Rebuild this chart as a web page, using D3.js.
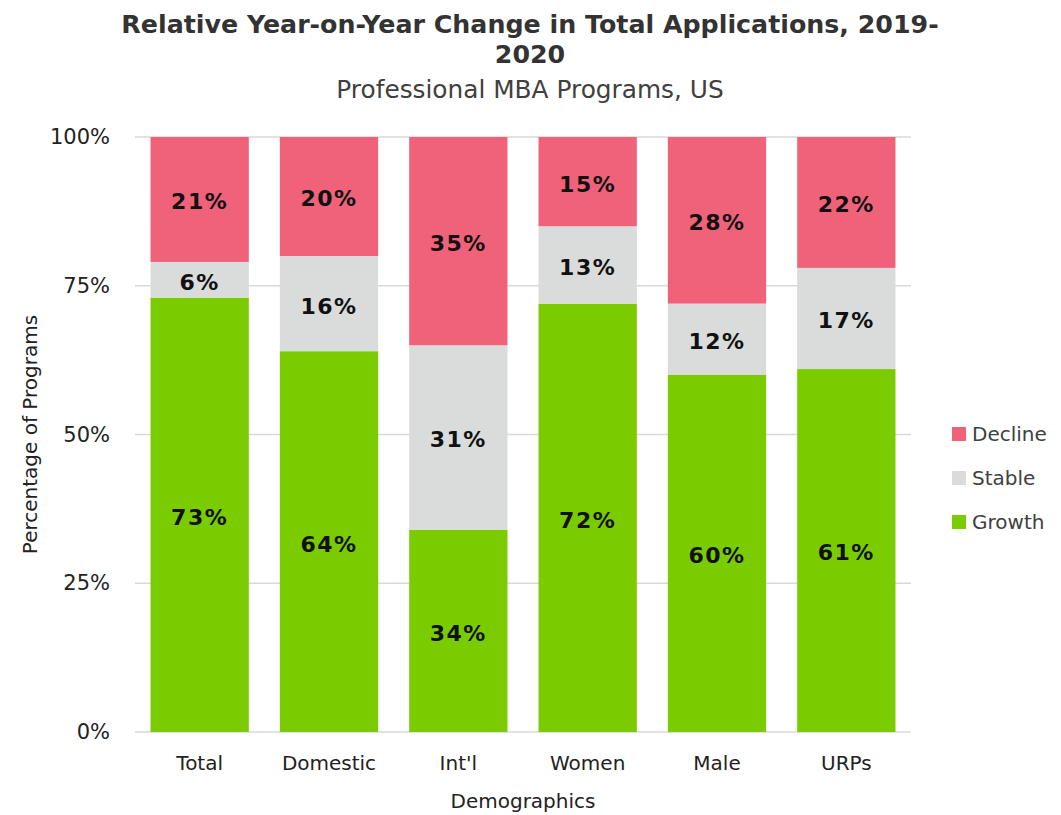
<!DOCTYPE html>
<html>
<head>
<meta charset="utf-8">
<script src="https://cdn.jsdelivr.net/npm/d3@7"></script>
<style>
  html, body { margin: 0; padding: 0; background: #fff; }
  svg { display: block; }
</style>
</head>
<body>
<svg id="chart" width="1061" height="815"></svg>
<script>
// Categories and stacked shares (percent of programs)
const categories = ["Total", "Domestic", "Int'l", "Women", "Male", "URPs"];
const growth  = [73, 64, 34, 72, 60, 61];
const stable  = [6, 16, 31, 13, 12, 17];
const decline = [21, 20, 35, 15, 28, 22];
const seriesNames = ["Growth", "Stable", "Decline"];
const yTicks = [0, 25, 50, 75, 100];

const colors = { Growth: "#7ACC00", Stable: "#D9DCDB", Decline: "#EF6279" };
const FONT = "'DejaVu Sans', sans-serif";

const svg = d3.select("#chart");
const margin = { left: 135, right: 150, top: 137, bottom: 83 };
const W = 1061, H = 815;

const x = d3.scaleBand().domain(categories)
  .range([margin.left, W - margin.right]).paddingInner(0.24).paddingOuter(0.12);
const y = d3.scaleLinear().domain([0, 100]).range([H - margin.bottom, margin.top]);

const rows = categories.map((c, i) => ({ category: c, Growth: growth[i], Stable: stable[i], Decline: decline[i] }));
const stacked = d3.stack().keys(seriesNames)(rows);

// Gridlines
svg.append("g").selectAll("line").data(yTicks).join("line")
  .attr("x1", margin.left).attr("x2", W - margin.right)
  .attr("y1", d => y(d)).attr("y2", d => y(d))
  .attr("stroke", "#D9D9D9").attr("stroke-width", 1.5);

// Y axis labels
const yAxis = d3.axisLeft(y).tickValues(yTicks).tickFormat(d => d + "%").tickSize(0).tickPadding(25);
const gy = svg.append("g").attr("transform", `translate(${margin.left},0)`).call(yAxis);
gy.select(".domain").remove();
gy.selectAll("text").attr("font-family", FONT).attr("font-size", 21).attr("fill", "#222");

// Bars
const layer = svg.append("g").selectAll("g").data(stacked).join("g")
  .attr("fill", d => colors[d.key]);
layer.selectAll("rect").data(d => d).join("rect")
  .attr("x", d => x(d.data.category))
  .attr("width", x.bandwidth())
  .attr("y", d => y(d[1]))
  .attr("height", d => y(d[0]) - y(d[1]));

// Value labels
const labels = svg.append("g");
stacked.forEach(s => {
  labels.selectAll(null).data(s).join("text")
    .attr("x", d => x(d.data.category) + x.bandwidth() / 2)
    .attr("y", d => (y(d[0]) + y(d[1])) / 2)
    .attr("dy", "0.45em")
    .attr("text-anchor", "middle")
    .attr("font-family", FONT)
    .attr("font-weight", "bold")
    .attr("font-size", 22)
    .attr("letter-spacing", 1.5)
    .attr("fill", "#111")
    .text(d => (d[1] - d[0]) + "%");
});

// X axis labels
const xAxis = d3.axisBottom(x).tickSize(0).tickPadding(24);
const gx = svg.append("g").attr("transform", `translate(0,${y(0)})`).call(xAxis);
gx.select(".domain").remove();
gx.selectAll("text").attr("font-family", FONT).attr("font-size", 20).attr("fill", "#222");

// Axis titles
svg.append("text")
  .attr("x", (margin.left + W - margin.right) / 2).attr("y", 808)
  .attr("text-anchor", "middle")
  .attr("font-family", FONT).attr("font-size", 20).attr("fill", "#222")
  .text("Demographics");
svg.append("text")
  .attr("transform", `translate(37,${(y(0) + y(100)) / 2}) rotate(-90)`)
  .attr("text-anchor", "middle")
  .attr("font-family", FONT).attr("font-size", 20).attr("fill", "#222")
  .text("Percentage of Programs");

// Titles
svg.append("text")
  .attr("x", 530).attr("y", 33).attr("text-anchor", "middle")
  .attr("font-family", FONT).attr("font-weight", "bold")
  .attr("font-size", 25.3).attr("fill", "#333")
  .text("Relative Year-on-Year Change in Total Applications, 2019-");
svg.append("text")
  .attr("x", 530).attr("y", 63).attr("text-anchor", "middle")
  .attr("font-family", FONT).attr("font-weight", "bold")
  .attr("font-size", 25.3).attr("fill", "#333")
  .text("2020");
svg.append("text")
  .attr("x", 530).attr("y", 98).attr("text-anchor", "middle")
  .attr("font-family", FONT)
  .attr("font-size", 24.8).attr("fill", "#404040")
  .text("Professional MBA Programs, US");

// Legend (Decline on top)
const legendItems = ["Decline", "Stable", "Growth"];
const lg = svg.append("g").selectAll("g").data(legendItems).join("g")
  .attr("transform", (d, i) => `translate(952,${434 + i * 44})`);
lg.append("rect").attr("x", 0).attr("y", -7).attr("width", 14).attr("height", 14)
  .attr("fill", d => colors[d]);
lg.append("text").attr("x", 20).attr("dy", "0.36em")
  .attr("font-family", FONT).attr("font-size", 20).attr("fill", "#404040")
  .text(d => d);
</script>
</body>
</html>
